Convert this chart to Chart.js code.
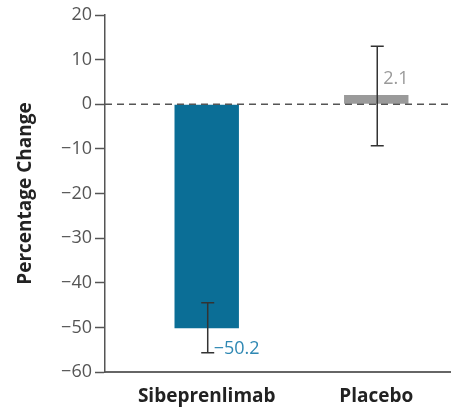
<!DOCTYPE html>
<html>
<head>
<meta charset="utf-8">
<script src="https://cdn.jsdelivr.net/npm/chart.js@4/dist/chart.umd.min.js"></script>
<style>
  html, body { margin: 0; padding: 0; background: #fff; }
  #wrap { width: 453px; height: 408px; }
</style>
</head>
<body>
<div id="wrap"><canvas id="chart"></canvas></div>
<script>
// values
const categories = ['Sibeprenlimab', 'Placebo'];
const changeValues = [-50.2, 2.1];
const errorLow = [-55.7, -9.3];
const errorHigh = [-44.5, 13.0];
const yTicks = [20, 10, 0, -10, -20, -30, -40, -50, -60];
const valueLabels = ['\u221250.2', '2.1'];

const barColors = ['#0b6e96', '#9a9a9a'];
const labelColors = ['#2f88b3', '#9a9a9a'];

const fmt = v => (v < 0 ? '\u2212' + Math.abs(v) : String(v));

// dashed zero line, error bars and value labels
const extrasPlugin = {
    id: 'extras',
    afterDatasetsDraw(chart) {
        const { ctx, chartArea, scales } = chart;
        const y = scales.y;
        const meta = chart.getDatasetMeta(0);
        ctx.save();

        const y0 = y.getPixelForValue(0);
        ctx.strokeStyle = '#555';
        ctx.lineWidth = 1.5;
        ctx.setLineDash([7, 5]);
        ctx.beginPath();
        ctx.moveTo(chartArea.left, y0);
        ctx.lineTo(chart.width, y0);
        ctx.stroke();
        ctx.setLineDash([]);

        ctx.strokeStyle = '#333';
        ctx.lineWidth = 1.5;
        meta.data.forEach((bar, i) => {
            const x = bar.x + 1;
            const yl = y.getPixelForValue(errorLow[i]);
            const yh = y.getPixelForValue(errorHigh[i]);
            ctx.beginPath();
            ctx.moveTo(x, yl);
            ctx.lineTo(x, yh);
            ctx.moveTo(x - 6.5, yl);
            ctx.lineTo(x + 6.5, yl);
            ctx.moveTo(x - 6.5, yh);
            ctx.lineTo(x + 6.5, yh);
            ctx.stroke();
        });

        ctx.font = '18px "Open Sans"';
        ctx.textAlign = 'left';
        ctx.textBaseline = 'middle';
        meta.data.forEach((bar, i) => {
            const x = bar.x + 7;
            const ty = changeValues[i] < 0
                ? y.getPixelForValue(errorLow[i]) - 4
                : y.getPixelForValue(changeValues[i]) - 16;
            ctx.fillStyle = labelColors[i];
            ctx.fillText(valueLabels[i], x, ty);
        });
        ctx.restore();
    }
};

Chart.defaults.font.family = '"Open Sans", sans-serif';

new Chart(document.getElementById('chart'), {
    type: 'bar',
    data: {
        datasets: [{
            data: categories.map((c, i) => ({ x: i, y: changeValues[i] })),
            backgroundColor: barColors,
            borderWidth: 0,
            barPercentage: 0.38,
            categoryPercentage: 1
        }]
    },
    options: {
        responsive: true,
        maintainAspectRatio: false,
        animation: false,
        layout: { padding: { left: 14, top: 15, right: 3, bottom: 0 } },
        plugins: { legend: { display: false }, tooltip: { enabled: false } },
        scales: {
            x: {
                type: 'linear',
                offset: false,
                min: -0.6,
                max: 1.435,
                grid: { display: false, offset: false },
                border: { color: '#666', width: 2 },
                afterBuildTicks: s => { s.ticks = categories.map((c, i) => ({ value: i })); },
                afterFit: s => { s.height = 36; },
                ticks: {
                    padding: 5,
                    color: '#222',
                    font: { size: 19, weight: 'bold' },
                    callback: v => categories[v]
                }
            },
            y: {
                min: -60,
                max: 20,
                border: { color: '#555', width: 1.5 },
                grid: { drawOnChartArea: false, drawTicks: true, tickLength: 10, tickColor: '#555', tickWidth: 1.5 },
                afterBuildTicks: s => { s.ticks = yTicks.map(v => ({ value: v })); },
                afterFit: s => { s.width = 91; },
                ticks: {
                    padding: 3,
                    color: '#555',
                    font: { size: 18 },
                    callback: v => fmt(v)
                },
                title: {
                    display: true,
                    text: 'Percentage Change',
                    color: '#222',
                    padding: { top: 0, bottom: 0 },
                    font: { size: 19, weight: 'bold' }
                }
            }
        }
    },
    plugins: [extrasPlugin]
});
</script>
</body>
</html>
